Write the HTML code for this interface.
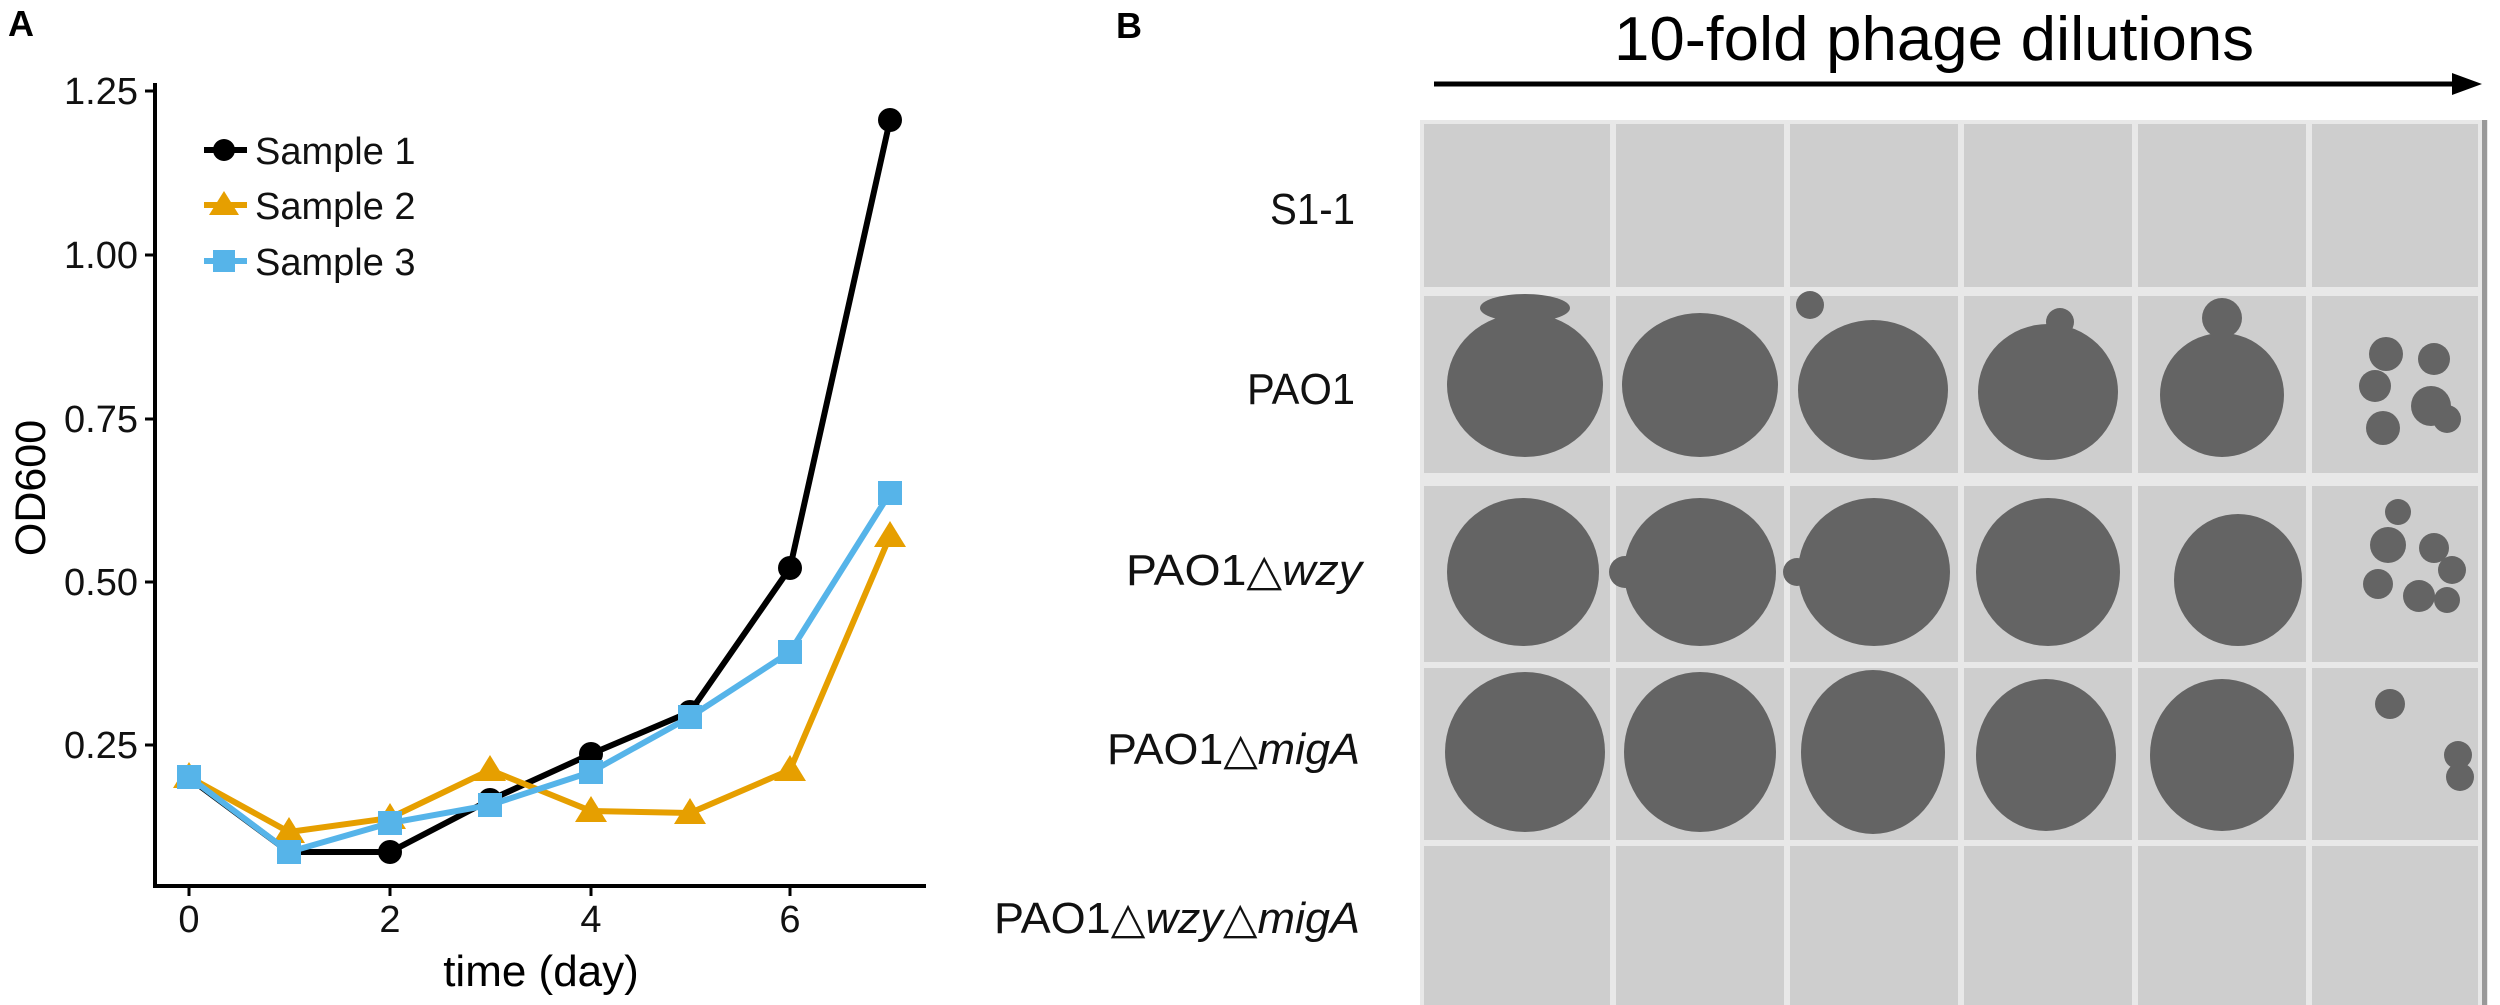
<!DOCTYPE html>
<html><head><meta charset="utf-8"><style>
html,body{margin:0;padding:0;background:#fff;}
svg{display:block;}
text{font-family:"Liberation Sans",Arial,sans-serif;}
</style></head><body>
<svg width="2500" height="1005" viewBox="0 0 2500 1005" xmlns="http://www.w3.org/2000/svg">
<rect width="2500" height="1005" fill="#fff"/>
<!-- Panel A -->
<text x="8" y="36" font-size="36" font-weight="bold">A</text>
<line x1="155" y1="83" x2="155" y2="888" stroke="#000" stroke-width="4"/>
<line x1="153" y1="886" x2="926" y2="886" stroke="#000" stroke-width="4"/>
<g stroke="#000" stroke-width="3">
<line x1="145" y1="91" x2="155" y2="91"/><line x1="145" y1="255" x2="155" y2="255"/>
<line x1="145" y1="419" x2="155" y2="419"/><line x1="145" y1="582" x2="155" y2="582"/>
<line x1="145" y1="745" x2="155" y2="745"/>
<line x1="189" y1="886" x2="189" y2="896"/><line x1="390" y1="886" x2="390" y2="896"/>
<line x1="591" y1="886" x2="591" y2="896"/><line x1="790" y1="886" x2="790" y2="896"/>
</g>
<g font-size="38" text-anchor="end" fill="#111">
<text x="138" y="104">1.25</text><text x="138" y="268">1.00</text>
<text x="138" y="432">0.75</text><text x="138" y="595">0.50</text><text x="138" y="758">0.25</text>
</g>
<g font-size="38" text-anchor="middle" fill="#111">
<text x="189" y="932">0</text><text x="390" y="932">2</text><text x="591" y="932">4</text><text x="790" y="932">6</text>
</g>
<text x="541" y="986" font-size="44" text-anchor="middle">time (day)</text>
<text transform="translate(45,488) rotate(-90)" font-size="43" text-anchor="middle">OD600</text>
<!-- series -->
<polyline fill="none" stroke="#000" stroke-width="6" points="189,778 289,852 390,852 490,800 591,754 690,712 790,568 890,120"/>
<g fill="#000"><circle cx="289" cy="852" r="12"/><circle cx="390" cy="852" r="12"/><circle cx="490" cy="800" r="12"/><circle cx="591" cy="754" r="12"/><circle cx="690" cy="712" r="12"/><circle cx="790" cy="568" r="12"/><circle cx="890" cy="120" r="12"/></g>
<polyline fill="none" stroke="#E69F00" stroke-width="6" points="189,777 289,832 390,818 490,770 591,811 690,813 790,770 890,536"/>
<g fill="#E69F00">
<polygon points="189,762 205,788 173,788"/><polygon points="289,817 305,843 273,843"/><polygon points="390,803 406,829 374,829"/><polygon points="490,755 506,781 474,781"/><polygon points="591,796 607,822 575,822"/><polygon points="690,798 706,824 674,824"/><polygon points="790,755 806,781 774,781"/><polygon points="890,521 906,547 874,547"/>
</g>
<polyline fill="none" stroke="#56B4E9" stroke-width="6" points="189,777 289,852 390,823 490,805 591,772 690,717 790,652 890,493"/>
<g fill="#56B4E9">
<rect x="177" y="765" width="24" height="24"/><rect x="277" y="840" width="24" height="24"/><rect x="378" y="811" width="24" height="24"/><rect x="478" y="793" width="24" height="24"/><rect x="579" y="760" width="24" height="24"/><rect x="678" y="705" width="24" height="24"/><rect x="778" y="640" width="24" height="24"/><rect x="878" y="481" width="24" height="24"/>
</g>
<!-- legend -->
<line x1="204" y1="150" x2="247" y2="150" stroke="#000" stroke-width="6"/><circle cx="224" cy="150" r="11" fill="#000"/>
<line x1="204" y1="205" x2="247" y2="205" stroke="#E69F00" stroke-width="6"/><polygon points="224,191 239,215 209,215" fill="#E69F00"/>
<line x1="204" y1="261" x2="247" y2="261" stroke="#56B4E9" stroke-width="6"/><rect x="213" y="250" width="22" height="22" fill="#56B4E9"/>
<g font-size="38" fill="#111"><text x="255" y="164">Sample 1</text><text x="255" y="219">Sample 2</text><text x="255" y="275">Sample 3</text></g>
<!-- Panel B -->
<text x="1116" y="38" font-size="36" font-weight="bold">B</text>
<text x="1934" y="60" font-size="62" text-anchor="middle" textLength="640" lengthAdjust="spacingAndGlyphs">10-fold phage dilutions</text>
<line x1="1434" y1="84" x2="2455" y2="84" stroke="#000" stroke-width="5"/>
<polygon points="2482,84 2452,73 2452,95" fill="#000"/>
<g font-size="44" text-anchor="end" fill="#111">
<text x="1355" y="224" textLength="85" lengthAdjust="spacingAndGlyphs">S1-1</text>
<text x="1355" y="404" textLength="108" lengthAdjust="spacingAndGlyphs">PAO1</text>
<text x="1362" y="585" textLength="236" lengthAdjust="spacingAndGlyphs">PAO1△<tspan font-style="italic">wzy</tspan></text>
<text x="1360" y="764" textLength="253" lengthAdjust="spacingAndGlyphs">PAO1△<tspan font-style="italic">migA</tspan></text>
<text x="1360" y="933" textLength="366" lengthAdjust="spacingAndGlyphs">PAO1△<tspan font-style="italic">wzy</tspan>△<tspan font-style="italic">migA</tspan></text>
</g>
<!-- plate -->
<rect x="1420" y="120" width="1068" height="885" fill="#e8e8e8"/>
<g fill="#cecece">
<rect x="1424" y="124" width="186" height="163"/><rect x="1616" y="124" width="168" height="163"/><rect x="1790" y="124" width="168" height="163"/><rect x="1964" y="124" width="168" height="163"/><rect x="2138" y="124" width="168" height="163"/><rect x="2312" y="124" width="166" height="163"/>
<rect x="1424" y="296" width="186" height="177"/><rect x="1616" y="296" width="168" height="177"/><rect x="1790" y="296" width="168" height="177"/><rect x="1964" y="296" width="168" height="177"/><rect x="2138" y="296" width="168" height="177"/><rect x="2312" y="296" width="166" height="177"/>
<rect x="1424" y="486" width="186" height="176"/><rect x="1616" y="486" width="168" height="176"/><rect x="1790" y="486" width="168" height="176"/><rect x="1964" y="486" width="168" height="176"/><rect x="2138" y="486" width="168" height="176"/><rect x="2312" y="486" width="166" height="176"/>
<rect x="1424" y="668" width="186" height="172"/><rect x="1616" y="668" width="168" height="172"/><rect x="1790" y="668" width="168" height="172"/><rect x="1964" y="668" width="168" height="172"/><rect x="2138" y="668" width="168" height="172"/><rect x="2312" y="668" width="166" height="172"/>
<rect x="1424" y="846" width="186" height="159"/><rect x="1616" y="846" width="168" height="159"/><rect x="1790" y="846" width="168" height="159"/><rect x="1964" y="846" width="168" height="159"/><rect x="2138" y="846" width="168" height="159"/><rect x="2312" y="846" width="166" height="159"/>
</g>
<rect x="2482" y="120" width="5" height="885" fill="#999"/>
<g fill="#646464">
<!-- row 2 -->
<ellipse cx="1525" cy="385" rx="78" ry="72"/><ellipse cx="1525" cy="308" rx="45" ry="14"/>
<ellipse cx="1700" cy="385" rx="78" ry="72"/>
<ellipse cx="1873" cy="390" rx="75" ry="70"/><circle cx="1810" cy="305" r="14"/>
<ellipse cx="2048" cy="392" rx="70" ry="68"/><circle cx="2060" cy="322" r="14"/>
<ellipse cx="2222" cy="395" rx="62" ry="62"/><circle cx="2222" cy="318" r="20"/>
<circle cx="2386" cy="354" r="17"/><circle cx="2434" cy="359" r="16"/><circle cx="2375" cy="386" r="16"/><circle cx="2431" cy="406" r="20"/><circle cx="2383" cy="428" r="17"/><circle cx="2447" cy="419" r="14"/>
<!-- row 3 -->
<ellipse cx="1523" cy="572" rx="76" ry="74"/>
<ellipse cx="1700" cy="572" rx="76" ry="74"/><circle cx="1625" cy="572" r="16"/>
<ellipse cx="1874" cy="572" rx="76" ry="74"/><circle cx="1797" cy="572" r="14"/>
<ellipse cx="2048" cy="572" rx="72" ry="74"/>
<ellipse cx="2238" cy="580" rx="64" ry="66"/>
<circle cx="2398" cy="512" r="13"/><circle cx="2388" cy="545" r="18"/><circle cx="2434" cy="548" r="15"/><circle cx="2378" cy="584" r="15"/><circle cx="2419" cy="596" r="16"/><circle cx="2452" cy="570" r="14"/><circle cx="2447" cy="600" r="13"/>
<!-- row 4 -->
<ellipse cx="1525" cy="752" rx="80" ry="80"/>
<ellipse cx="1700" cy="752" rx="76" ry="80"/>
<ellipse cx="1873" cy="752" rx="72" ry="82"/>
<ellipse cx="2046" cy="755" rx="70" ry="76"/>
<ellipse cx="2222" cy="755" rx="72" ry="76"/>
<circle cx="2390" cy="704" r="15"/><circle cx="2458" cy="755" r="14"/><circle cx="2460" cy="777" r="14"/>
</g>
</svg>
</body></html>
